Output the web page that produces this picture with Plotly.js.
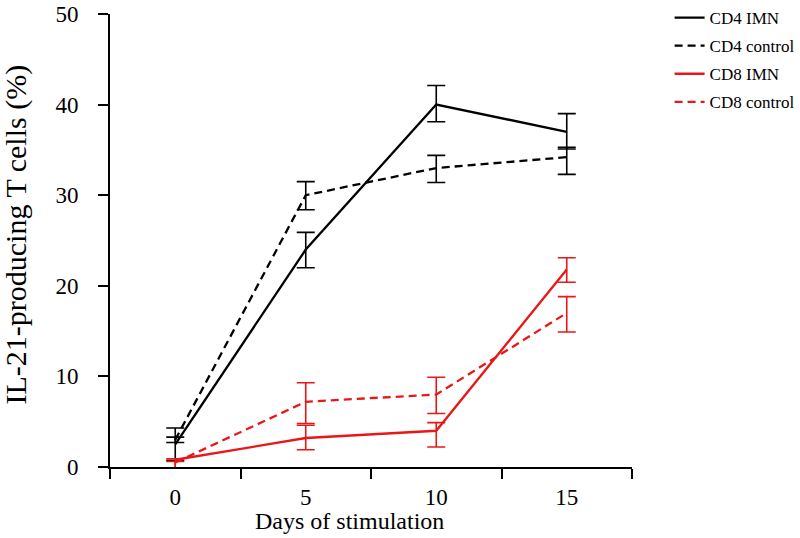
<!DOCTYPE html>
<html>
<head>
<meta charset="utf-8">
<script src="https://cdn.plot.ly/plotly-3.0.1.min.js"></script>
<style>html,body{margin:0;padding:0;background:#fff;}#chart{width:800px;height:538px;}</style>
</head>
<body>
<div id="chart"></div>
<script>
// Data
const days = [0, 5, 10, 15];
const dayLabels = ['0', '5', '10', '15'];

const cd4Imn = [2.5, 24, 40, 37];
const cd4ImnErrPlus = [1.8, 1.9, 2.1, 2.0];
const cd4ImnErrMinus = [1.8, 2.0, 1.9, 1.9];

const cd4Ctrl = [3.0, 30, 33, 34.2];
const cd4CtrlErrPlus = [0.3, 1.5, 1.4, 1.1];
const cd4CtrlErrMinus = [0.3, 1.6, 1.6, 1.9];

const cd8Imn = [0.8, 3.2, 4.0, 21.8];
const cd8ImnErrPlus = [0.1, 1.4, 0.9, 1.3];
const cd8ImnErrMinus = [2.0, 1.3, 1.8, 1.4];

const cd8Ctrl = [0.5, 7.2, 8.0, 17.0];
const cd8CtrlErrPlus = [0.1, 2.1, 1.9, 1.8];
const cd8CtrlErrMinus = [0.7, 2.4, 2.1, 2.1];

const seriesNames = ['CD4 IMN', 'CD4 control', 'CD8 IMN', 'CD8 control'];
const xTitle = 'Days of stimulation';
const yTitle = 'IL-21-producing T cells (%)';

const FONT = 'Liberation Serif';
const BLACK = '#000000';
const RED = 'rgb(232,24,24)';
const DASH = '8px,5px';

function mk(name, y, ep, em, color, dash, group) {
  return {
    type: 'scatter', mode: 'lines', name: name, x: days, y: y,
    legendgroup: group,
    line: {color: color, width: 2.3, dash: dash},
    error_y: {type: 'data', symmetric: false, array: ep, arrayminus: em,
              color: color, thickness: 1.6, width: 9, visible: true},
    cliponaxis: false
  };
}

const traces = [
  mk(seriesNames[0], cd4Imn, cd4ImnErrPlus, cd4ImnErrMinus, BLACK, 'solid', 'g1'),
  mk(seriesNames[1], cd4Ctrl, cd4CtrlErrPlus, cd4CtrlErrMinus, BLACK, DASH, 'g2'),
  mk(seriesNames[2], cd8Imn, cd8ImnErrPlus, cd8ImnErrMinus, RED, 'solid', 'g3'),
  mk(seriesNames[3], cd8Ctrl, cd8CtrlErrPlus, cd8CtrlErrMinus, RED, DASH, 'g4')
];

const layout = {
  width: 800, height: 538,
  margin: {l: 110, r: 168, t: 14, b: 71, autoexpand: false},
  paper_bgcolor: '#fff', plot_bgcolor: '#fff',
  font: {family: FONT, color: '#000'},
  showlegend: true,
  legend: {
    xref: 'container', yref: 'container',
    x: 0.837, y: 1.023, xanchor: 'left', yanchor: 'top',
    font: {family: FONT, size: 17, color: '#000'},
    tracegroupgap: 3, bgcolor: 'rgba(0,0,0,0)', borderwidth: 0
  },
  xaxis: {
    range: [-2.5, 17.5], tickmode: 'array', tickvals: days, ticktext: dayLabels,
    ticks: '', ticklabelstandoff: 8, automargin: false,
    showline: true, linecolor: '#000', linewidth: 2, showgrid: false, zeroline: false,
    tickfont: {family: FONT, size: 23},
    minor: {ticks: 'outside', tickmode: 'array', tickvals: [-2.5, 2.5, 7.5, 12.5, 17.5],
            ticklen: 10, tickwidth: 2, tickcolor: '#000', showgrid: false}
  },
  yaxis: {
    range: [0, 50], tickmode: 'array', tickvals: [0, 10, 20, 30, 40, 50],
    ticks: 'outside', ticklen: 10, tickwidth: 2, tickcolor: '#000',
    ticklabelstandoff: 15, automargin: false,
    showline: true, linecolor: '#000', linewidth: 2, showgrid: false, zeroline: false,
    tickfont: {family: FONT, size: 23}
  },
  annotations: [
    {text: xTitle, xref: 'paper', yref: 'paper', x: 0.5, y: 0, xshift: -22, yshift: -54,
     xanchor: 'center', yanchor: 'middle', showarrow: false, font: {family: FONT, size: 24, color: '#000'}},
    {text: yTitle, xref: 'paper', yref: 'paper', x: 0, y: 0.5, xshift: -95, yshift: 6, textangle: -90,
     xanchor: 'center', yanchor: 'middle', showarrow: false, font: {family: FONT, size: 30, color: '#000'}}
  ]
};

Plotly.newPlot('chart', traces, layout, {displayModeBar: false, staticPlot: true});
</script>
</body>
</html>
